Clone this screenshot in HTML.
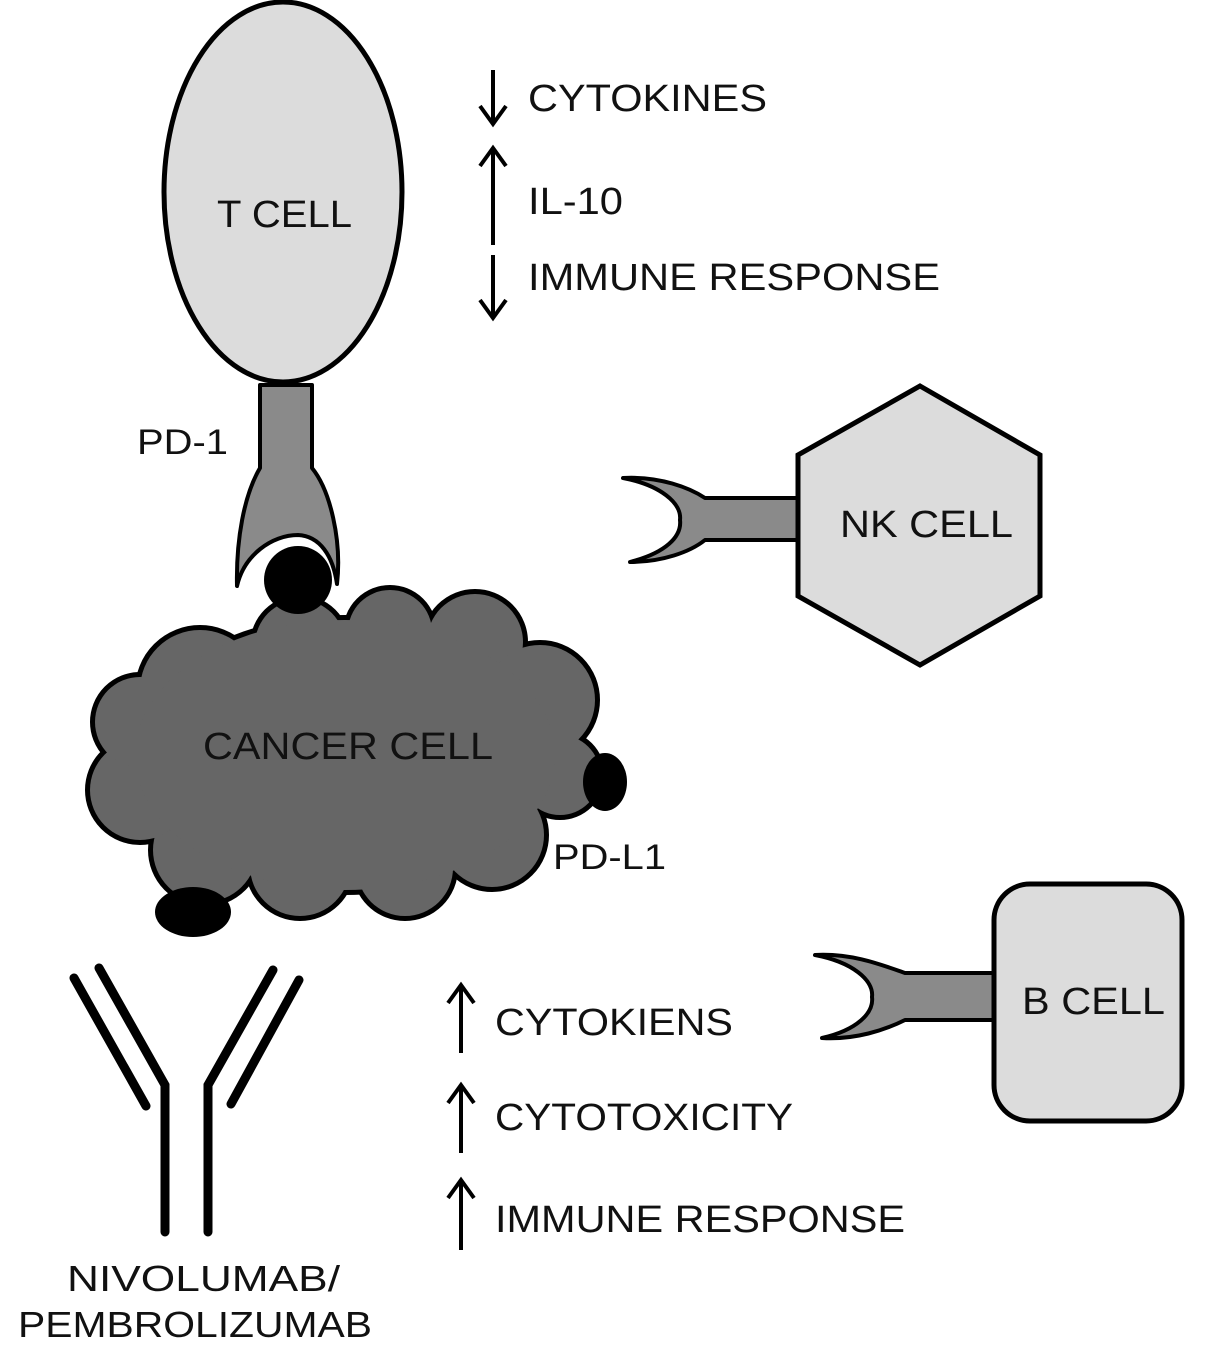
<!DOCTYPE html>
<html><head><meta charset="utf-8"><style>
html,body{margin:0;padding:0;background:#fff;}
svg{display:block;}
text{font-family:"Liberation Sans",Arial,sans-serif;fill:#111;}
</style></head><body>
<svg width="1205" height="1351" viewBox="0 0 1205 1351" xmlns="http://www.w3.org/2000/svg">
<!-- T cell -->
<ellipse cx="283" cy="192" rx="119" ry="190" fill="#dcdcdc" stroke="#000" stroke-width="5"/>
<text x="217" y="227" font-size="38" textLength="135" lengthAdjust="spacingAndGlyphs">T CELL</text>
<!-- PD-1 receptor -->
<path d="M260,385 L312,385 L312,468 C330,490 342,540 337,584 C333,556 320,536 298,535 C272,535 244,555 237,586 C236,540 244,495 260,468 Z" fill="#8a8a8a" stroke="#000" stroke-width="4" stroke-linejoin="round"/>
<text x="137" y="454" font-size="35" textLength="91" lengthAdjust="spacingAndGlyphs">PD-1</text>

<!-- Cancer cell cloud -->
<g stroke="#000" stroke-width="10" fill="#000">
<circle cx="200" cy="690" r="60"/><circle cx="300" cy="645" r="45"/><circle cx="390" cy="632" r="42"/>
<circle cx="475" cy="642" r="48"/><circle cx="540" cy="700" r="55"/><circle cx="560" cy="775" r="40"/>
<circle cx="492" cy="835" r="52"/><circle cx="405" cy="868" r="48"/><circle cx="300" cy="866" r="50"/>
<circle cx="205" cy="850" r="52"/><circle cx="140" cy="790" r="50"/><circle cx="140" cy="722" r="45"/>
<ellipse cx="345" cy="755" rx="210" ry="135"/>
</g>
<g fill="#666">
<circle cx="200" cy="690" r="60"/><circle cx="300" cy="645" r="45"/><circle cx="390" cy="632" r="42"/>
<circle cx="475" cy="642" r="48"/><circle cx="540" cy="700" r="55"/><circle cx="560" cy="775" r="40"/>
<circle cx="492" cy="835" r="52"/><circle cx="405" cy="868" r="48"/><circle cx="300" cy="866" r="50"/>
<circle cx="205" cy="850" r="52"/><circle cx="140" cy="790" r="50"/><circle cx="140" cy="722" r="45"/>
<ellipse cx="345" cy="755" rx="210" ry="135"/>
</g>
<text x="203" y="759" font-size="38" textLength="290" lengthAdjust="spacingAndGlyphs">CANCER CELL</text>
<!-- PD-L1 ligands -->
<circle cx="298" cy="580" r="34" fill="#000"/>
<ellipse cx="605" cy="782" rx="22" ry="29" fill="#000"/>
<ellipse cx="193" cy="912" rx="38" ry="25" fill="#000"/>
<text x="553" y="869" font-size="35" textLength="113" lengthAdjust="spacingAndGlyphs">PD-L1</text>

<!-- top-right text -->
<g stroke="#000" stroke-width="4" fill="none">
<line x1="493" y1="70" x2="493" y2="124"/><polyline points="480,106 493,124 506,106"/>
<line x1="493" y1="245" x2="493" y2="148"/><polyline points="480,166 493,148 506,166"/>
<line x1="493" y1="255" x2="493" y2="318"/><polyline points="480,300 493,318 506,300"/>
</g>
<text x="528" y="111" font-size="38" textLength="239" lengthAdjust="spacingAndGlyphs">CYTOKINES</text>
<text x="528" y="214" font-size="38" textLength="95" lengthAdjust="spacingAndGlyphs">IL-10</text>
<text x="528" y="290" font-size="38" textLength="412" lengthAdjust="spacingAndGlyphs">IMMUNE RESPONSE</text>

<!-- NK cell -->
<path d="M623,478 C660,476 690,488 705,498 L800,498 L800,540 L705,540 C690,552 662,562 630,562 C665,553 682,537 680,520 C682,503 660,485 623,478 Z" fill="#8a8a8a" stroke="#000" stroke-width="4" stroke-linejoin="round"/>
<polygon points="920,386 1040,455 1040,596 920,665 798,596 798,455" fill="#dcdcdc" stroke="#000" stroke-width="5"/>
<text x="840" y="537" font-size="38" textLength="173" lengthAdjust="spacingAndGlyphs">NK CELL</text>

<!-- B cell -->
<path d="M815,955 C852,953 882,965 905,973 L995,973 L995,1020 L905,1020 C885,1030 855,1040 822,1038 C857,1030 874,1013 872,997 C874,980 852,962 815,955 Z" fill="#8a8a8a" stroke="#000" stroke-width="4" stroke-linejoin="round"/>
<rect x="994" y="884" width="188" height="237" rx="36" fill="#dcdcdc" stroke="#000" stroke-width="5"/>
<text x="1022" y="1014" font-size="38" textLength="143" lengthAdjust="spacingAndGlyphs">B CELL</text>

<!-- antibody -->
<g stroke="#000" stroke-width="9" fill="none" stroke-linecap="round" stroke-linejoin="miter">
<line x1="74" y1="978" x2="146" y2="1106"/>
<polyline points="99,968 165,1085 165,1232"/>
<polyline points="273,970 208,1085 208,1232"/>
<line x1="299" y1="980" x2="231" y2="1104"/>
</g>
<text x="67" y="1291" font-size="36" textLength="273" lengthAdjust="spacingAndGlyphs">NIVOLUMAB/</text>
<text x="18" y="1337" font-size="36" textLength="354" lengthAdjust="spacingAndGlyphs">PEMBROLIZUMAB</text>

<!-- bottom arrows -->
<g stroke="#000" stroke-width="4" fill="none">
<line x1="461" y1="1053" x2="461" y2="985"/><polyline points="448,1003 461,985 474,1003"/>
<line x1="461" y1="1153" x2="461" y2="1085"/><polyline points="448,1103 461,1085 474,1103"/>
<line x1="461" y1="1250" x2="461" y2="1180"/><polyline points="448,1198 461,1180 474,1198"/>
</g>
<text x="495" y="1035" font-size="38" textLength="238" lengthAdjust="spacingAndGlyphs">CYTOKIENS</text>
<text x="495" y="1130" font-size="38" textLength="298" lengthAdjust="spacingAndGlyphs">CYTOTOXICITY</text>
<text x="495" y="1232" font-size="38" textLength="410" lengthAdjust="spacingAndGlyphs">IMMUNE RESPONSE</text>
</svg>
</body></html>
